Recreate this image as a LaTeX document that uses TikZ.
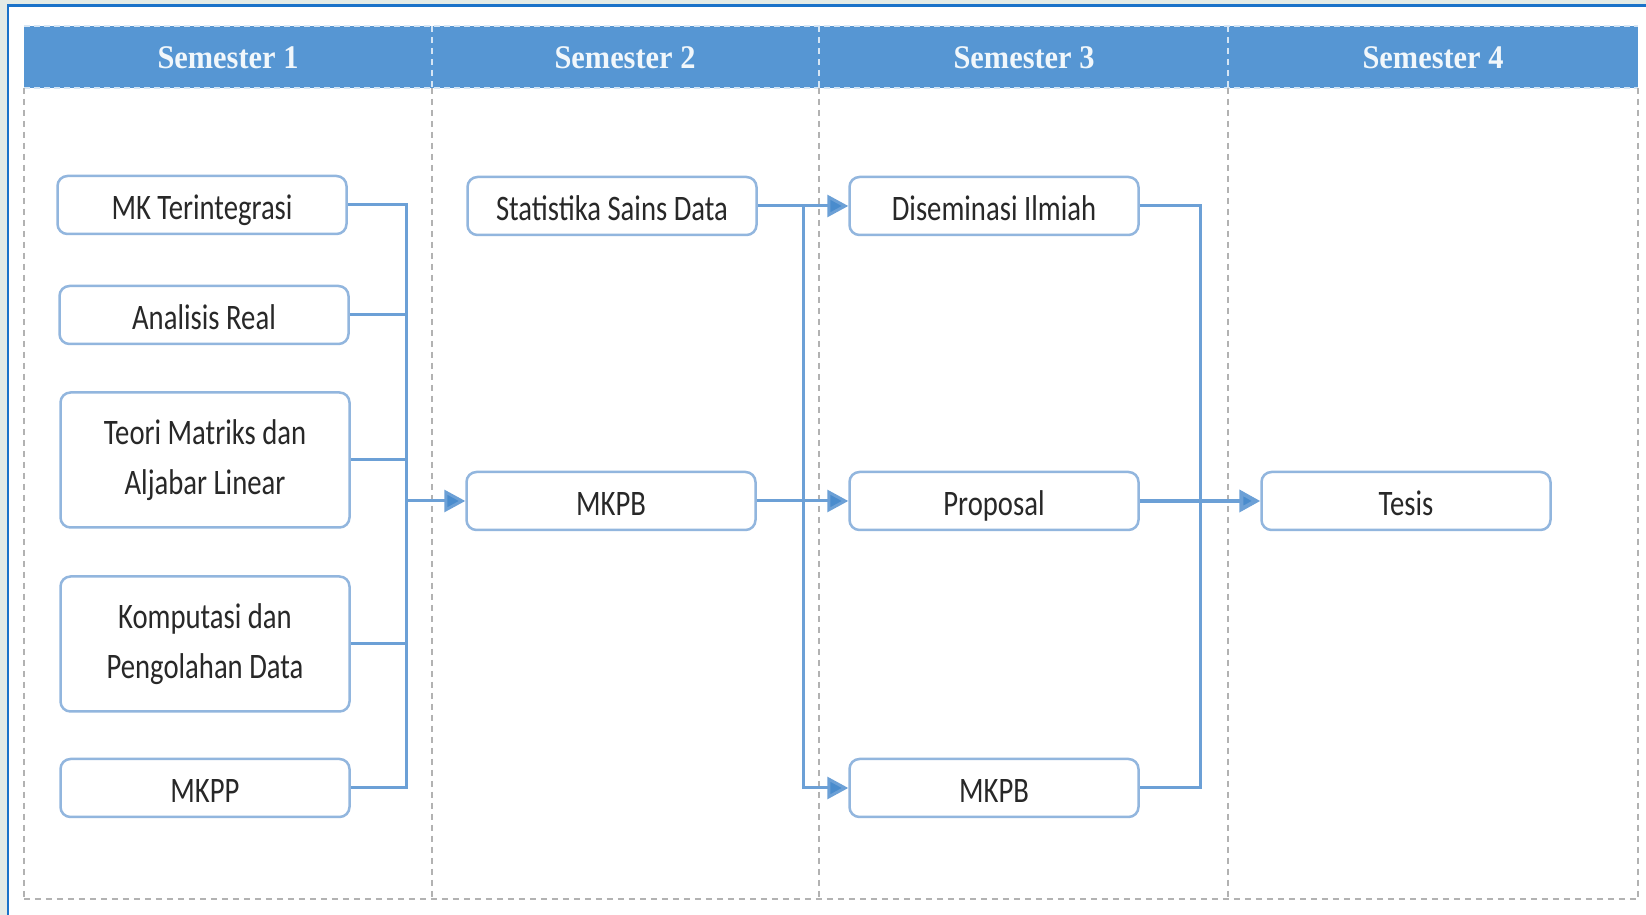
\documentclass[tikz,border=0pt]{standalone}
\usepackage{fontspec}
\usepackage{tikz}
\usetikzlibrary{arrows.meta,calc}
\newfontfamily\boxfont[FakeStretch=0.8]{Carlito}
\newfontfamily\headfont[FakeStretch=0.92]{Liberation Serif}
\definecolor{headblue}{RGB}{86,150,211}
\definecolor{lineblue}{RGB}{108,160,214}
\definecolor{tipblue}{RGB}{74,140,205}
\definecolor{boxblue}{RGB}{146,182,222}
\definecolor{frameblue}{RGB}{26,115,201}
\definecolor{outgrey}{RGB}{227,235,230}
\definecolor{divgrey}{RGB}{178,178,178}
\definecolor{txtgrey}{RGB}{40,40,40}

\begin{document}
\begin{tikzpicture}[x=0.1mm,y=-0.1mm,
	mk/.style={draw=boxblue, line width=0.25mm, fill=white, rounded corners=1mm,
		minimum width=28.9mm, minimum height=5.8mm, align=center, text=txtgrey,
		text height=3.0mm, text depth=0mm,
		font=\boxfont\fontsize{10.2}{14.2}\selectfont},
	mkbig/.style={mk, minimum height=13.5mm, text height={}, text depth={}},
	semhead/.style={text=white!92!headblue, font=\headfont\bfseries\fontsize{9.4}{11}\selectfont},
	conn/.style={draw=lineblue, line width=0.3mm},
	arr/.style={conn, -{Triangle[length=2.1mm,width=2.2mm,fill=tipblue]}},
	divline/.style={draw=divgrey, line width=0.15mm, dash pattern=on 0.6mm off 0.5mm}]
	\useasboundingbox (0,0) rectangle (1646,915);
	%%%%%%%%%% bingkai %%%%%%%%%%
	\fill[outgrey] (0,0) rectangle (1646,915);
	\fill[white] (8,6) rectangle (1646,915);
	\draw[frameblue, line width=0.3mm] (8,915) -- (8,6) -- (1646,6);
	
	%%%%%%%%%% kolom semester %%%%%%%%%%
	\fill[headblue] (24,26) rectangle (1638,88);
	\draw[white!75!headblue, line width=0.15mm, dash pattern=on 0.6mm off 0.4mm]
	(24,26) -- (1638,26) (24,88) -- (1638,88);
	\foreach \xx in {432,819,1228}
		\draw[white!75!headblue, line width=0.15mm, dash pattern=on 0.6mm off 0.5mm] (\xx,26) -- (\xx,88);
	\foreach \xx in {24,432,819,1228,1638}
		\draw[divline] (\xx,88) -- (\xx,899);
	\draw[divline] (24,899) -- (1638,899);
	
	\node[semhead] (sem1) at (228,58) {Semester 1};
	\node[semhead] (sem2) at (625,58) {Semester 2};
	\node[semhead] (sem3) at (1024,58) {Semester 3};
	\node[semhead] (sem4) at (1433,58) {Semester 4};
	
	%%%%%%%%%% mata kuliah %%%%%%%%%%
	\node[mk] (mkt) at (202,205) {MK Terintegrasi};
	\node[mk] (ar) at (204,315) {Analisis Real};
	\node[mkbig] (tm) at (205,460) {Teori Matriks dan\\Aljabar Linear};
	\node[mkbig] (kp) at (205,644) {Komputasi dan\\Pengolahan Data};
	\node[mk] (mkpp) at (205,788) {MKPP};
	
	\node[mk] (ssd) at (612,206) {Statistika Sains Data};
	\node[mk] (mkpb) at (611,501) {MKPB};
	
	\node[mk] (dis) at (994,206) {Diseminasi Ilmiah};
	\node[mk] (prop) at (994,501) {Proposal};
	\node[mk] (mkpbb) at (994,788) {MKPB};
	
	\node[mk] (tesis) at (1406,501) {Tesis};
	
	%%%%%%%%%% garis %%%%%%%%%%
	\coordinate (busA) at (406,501);
	\coordinate (busB) at (803,206);
	\coordinate (busC) at (1200,501);
	
	\foreach \n in {mkt,ar,tm,kp,mkpp}
		\draw[conn] (\n.east) -| (busA);
	\draw[arr] (busA) -- (mkpb.west);
	
	\draw[arr] (ssd.east) -- (dis.west);
	\draw[arr] (busB) |- (mkpbb.west);
	\draw[arr] (mkpb.east) -- (prop.west);
	
	\draw[conn] (dis.east) -| (busC) |- (mkpbb.east);
	\draw[arr, line width=0.4mm] (prop.east) -- (tesis.west);
\end{tikzpicture}
\end{document}
